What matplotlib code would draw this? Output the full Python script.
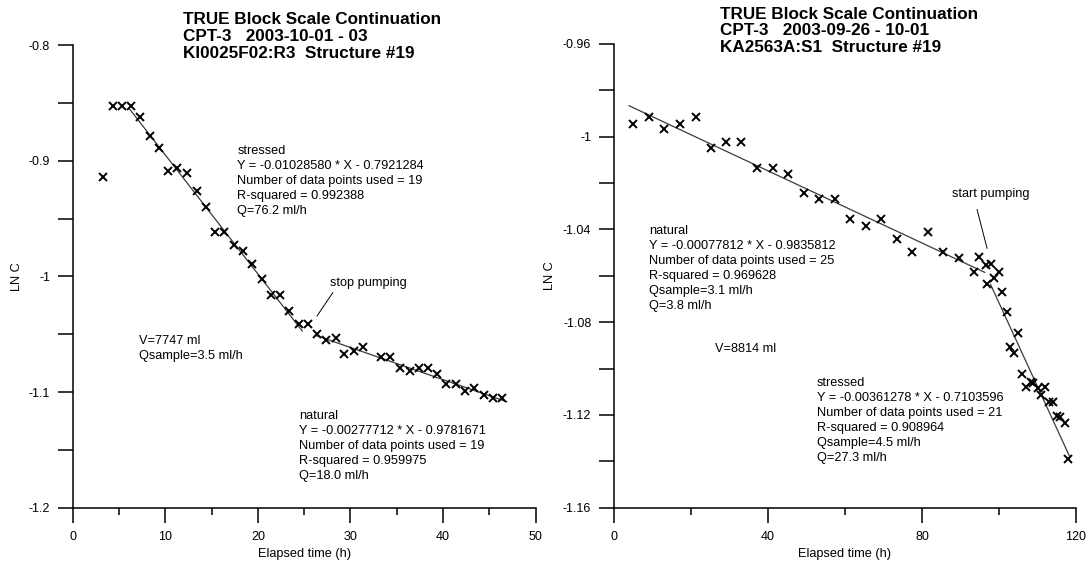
import matplotlib
matplotlib.use("Agg")
import matplotlib.pyplot as plt
import numpy as np

plt.rcParams["font.family"] = ["Liberation Sans", "DejaVu Sans"]
plt.rcParams["axes.unicode_minus"] = False

W, H, DPI = 1088, 563, 100

# KI0025F02:R3, CPT-3 2003-10-01 - 03
left_time = [3.3, 4.3, 5.3, 6.3, 7.3, 8.3, 9.3, 10.3, 11.3, 12.3,
             13.4, 14.4, 15.4, 16.4, 17.4, 18.4, 19.4, 20.4, 21.4, 22.4,
             23.4, 24.4, 25.4, 26.4, 27.4, 28.4, 29.3, 30.4, 31.4, 33.3,
             34.3, 35.4, 36.4, 37.4, 38.4, 39.4, 40.3, 41.4, 42.4, 43.4,
             44.4, 45.4, 46.4]
left_lnc = [-0.914, -0.853, -0.853, -0.853, -0.8625, -0.879, -0.889, -0.909, -0.906, -0.911,
            -0.9265, -0.940, -0.962, -0.962, -0.9725, -0.978, -0.989, -1.002, -1.016, -1.016,
            -1.030, -1.0415, -1.041, -1.0496, -1.055, -1.053, -1.067, -1.0645, -1.0614, -1.070,
            -1.070, -1.079, -1.0816, -1.079, -1.079, -1.0847, -1.0934, -1.0934, -1.0993, -1.0965,
            -1.1024, -1.1052, -1.1052]
left_fits = {
    "stressed": (-0.01028580, -0.7921284, 6.1, 24.8),
    "natural": (-0.00277712, -0.9781671, 26.2, 46.9),
}

# KA2563A:S1, CPT-3 2003-09-26 - 10-01
right_time_natural = [5.0, 9.2, 13.1, 17.1, 21.2, 25.1, 29.2, 33.1, 37.2, 41.2,
                      45.3, 49.3, 53.3, 57.3, 61.3, 65.4, 69.4, 73.5, 77.5, 81.5,
                      85.5, 89.5, 93.4, 94.9, 96.5]
right_lnc_natural = [-0.9943, -0.9914, -0.9968, -0.9943, -0.9914, -1.0050, -1.0022, -1.0022, -1.0133, -1.0133,
                     -1.0160, -1.0243, -1.0268, -1.0268, -1.0354, -1.0384, -1.0354, -1.0439, -1.0496, -1.0411,
                     -1.0496, -1.0524, -1.0583, -1.0520, -1.0555]
right_time_stressed = [97.0, 97.9, 98.7, 100.0, 100.9, 102.0, 102.9, 103.9, 104.9, 106.0,
                       106.9, 108.3, 108.9, 110.0, 110.9, 112.0, 113.0, 113.9, 115.0, 115.9,
                       117.1, 117.9]
right_lnc_stressed = [-1.0637, -1.0549, -1.0608, -1.0582, -1.0668, -1.0755, -1.0906, -1.0934, -1.0845, -1.1023,
                      -1.1081, -1.1057, -1.1061, -1.1085, -1.1114, -1.1081, -1.1145, -1.1145, -1.1203, -1.1207,
                      -1.1236, -1.1390]
right_fits = {
    "natural": (-0.00077812, -0.9835812, 3.9, 96.3),
    "stressed": (-0.00361278, -0.7103596, 97.8, 118.5),
}

left_yticks = [-0.8, -0.9, -1.0, -1.1, -1.2]
left_yticklabels = ["-0.8", "-0.9", "-1", "-1.1", "-1.2"]
right_yticks = [-0.96, -1.0, -1.04, -1.08, -1.12, -1.16]
right_yticklabels = ["-0.96", "-1", "-1.04", "-1.08", "-1.12", "-1.16"]

left_title = ["TRUE Block Scale Continuation", "CPT-3   2003-10-01 - 03", "KI0025F02:R3  Structure #19"]
right_title = ["TRUE Block Scale Continuation", "CPT-3   2003-09-26 - 10-01", "KA2563A:S1  Structure #19"]

left_notes = [
    ((17.8, -0.8904), ["stressed", "Y = -0.01028580 * X - 0.7921284",
                       "Number of data points used = 19", "R-squared = 0.992388", "Q=76.2 ml/h"]),
    ((7.2, -1.0542), ["V=7747 ml", "Qsample=3.5 ml/h"]),
    ((24.5, -1.1195), ["natural", "Y = -0.00277712 * X - 0.9781671",
                       "Number of data points used = 19", "R-squared = 0.959975", "Q=18.0 ml/h"]),
    ((27.8, -1.0046), ["stop pumping"]),
]
right_notes = [
    ((9.1, -1.0398), ["natural", "Y = -0.00077812 * X - 0.9835812",
                      "Number of data points used = 25", "R-squared = 0.969628",
                      "Qsample=3.1 ml/h", "Q=3.8 ml/h"]),
    ((26.2, -1.0908), ["V=8814 ml"]),
    ((52.6, -1.1054), ["stressed", "Y = -0.00361278 * X - 0.7103596",
                       "Number of data points used = 21", "R-squared = 0.908964",
                       "Qsample=4.5 ml/h", "Q=27.3 ml/h"]),
    ((87.7, -1.0241), ["start pumping"]),
]
left_pointer = ([28.1, 26.4], [-1.0141, -1.0342])
right_pointer = ([94.3, 96.9], [-1.0314, -1.0481])

FS = 9.2
LINE_PX = 15


def draw_notes(ax, notes):
    for (x, y), lines in notes:
        for i, line in enumerate(lines):
            ax.annotate(line, xy=(x, y), xytext=(0, -4.5 - i * LINE_PX),
                        textcoords="offset pixels", fontsize=FS,
                        ha="left", va="baseline")


def draw_title(fig, x_px, y_px, lines):
    for i, line in enumerate(lines):
        fig.text(x_px / W, 1 - (y_px + 6.1 + i * 16.7) / H, line,
                 fontsize=12.3, fontweight="bold", ha="left", va="baseline")


def style_axes(ax, xmax, xmajor, ylim, yticks, yticklabels, ystep):
    for side in ("top", "right"):
        ax.spines[side].set_visible(False)
    for side in ("left", "bottom"):
        ax.spines[side].set_linewidth(1.1)
    ax.set_xlim(0, xmax)
    ax.set_ylim(*ylim)
    ax.set_xticks(np.arange(0, xmax + 0.1, xmajor))
    ax.set_xticks(np.arange(xmajor / 2, xmax, xmajor), minor=True)
    ax.set_yticks(yticks)
    ax.set_yticklabels(yticklabels)
    ax.set_yticks(np.arange(yticks[0] - ystep / 2, yticks[-1], -ystep), minor=True)
    ax.tick_params(axis="both", which="both", direction="out", width=1.1,
                   labelsize=9, color="black")
    ax.tick_params(axis="x", which="major", length=10.8, pad=6)
    ax.tick_params(axis="x", which="minor", length=5.2)
    ax.tick_params(axis="y", which="both", length=10.8, pad=5.5)
    ax.set_xlabel("Elapsed time (h)", fontsize=FS)
    ax.xaxis.set_label_coords(0.5, -0.100)
    ax.xaxis.label.set_va("center")
    ax.set_ylabel("LN C", fontsize=FS)
    ax.yaxis.label.set_va("center")


def draw_fits(ax, fits):
    for slope, intercept, x0, x1 in fits.values():
        xs = np.array([x0, x1])
        ax.plot(xs, slope * xs + intercept, color="#3a3a3a", lw=0.9, zorder=2)


fig = plt.figure(figsize=(W / DPI, H / DPI), dpi=DPI)
ax1 = fig.add_axes([72.7 / W, 1 - 507.7 / H, 462.8 / W, 462.7 / H])
ax2 = fig.add_axes([614 / W, 1 - 507.7 / H, 462 / W, 463.7 / H])

mk = dict(marker="x", linestyle="none", color="black", markersize=6.2, markeredgewidth=1.4, zorder=3)

# left panel: stressed then natural decline
draw_fits(ax1, left_fits)
ax1.plot(left_time, left_lnc, **mk)
ax1.plot(*left_pointer, color="black", lw=0.7)
draw_notes(ax1, left_notes)
style_axes(ax1, 50, 10, (-1.2, -0.8), left_yticks, left_yticklabels, 0.1)
ax1.yaxis.set_label_coords(-0.121, 0.5)

# right panel: natural then stressed decline
draw_fits(ax2, right_fits)
ax2.plot(right_time_natural, right_lnc_natural, **mk)
ax2.plot(right_time_stressed, right_lnc_stressed, **mk)
ax2.plot(*right_pointer, color="black", lw=0.7)
draw_notes(ax2, right_notes)
style_axes(ax2, 120, 40, (-1.16, -0.96), right_yticks, right_yticklabels, 0.04)
ax2.set_xticks([20, 60, 100], minor=True)
ax2.yaxis.set_label_coords(-0.139, 0.5)

draw_title(fig, 183.4, 18.3, left_title)
draw_title(fig, 720.5, 12.5, right_title)

fig.savefig("out.png", dpi=DPI)
